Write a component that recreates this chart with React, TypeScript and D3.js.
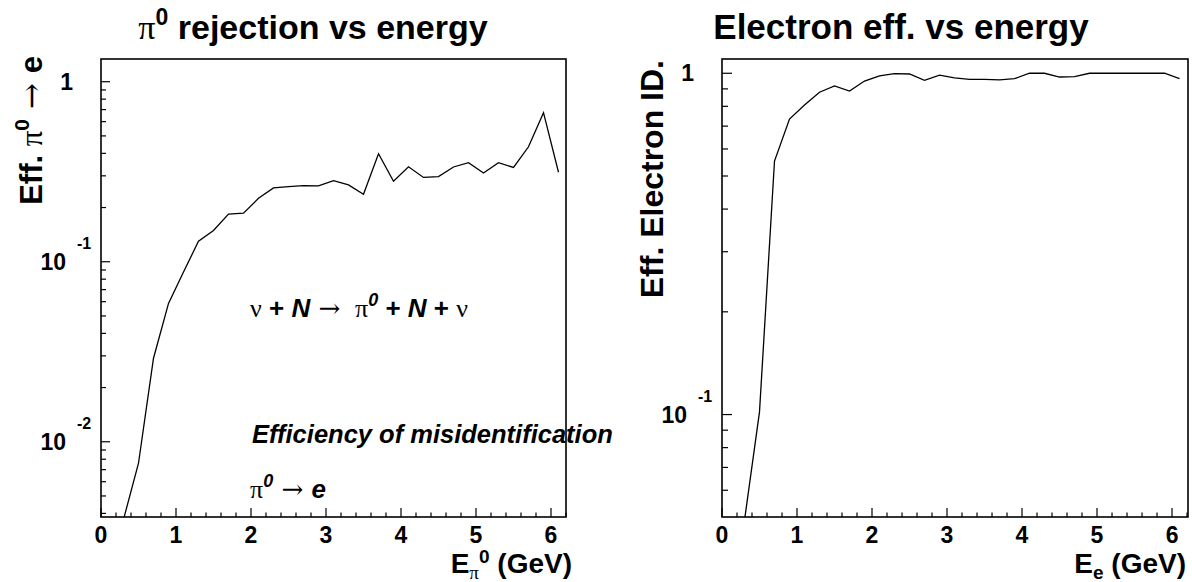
import React from 'react';
import * as d3 from 'd3';

// ---------- data ----------
const energyBins = [0.3, 0.5, 0.7, 0.9, 1.1, 1.3, 1.5, 1.7, 1.9, 2.1, 2.3, 2.5, 2.7, 2.9, 3.1, 3.3, 3.5, 3.7, 3.9, 4.1, 4.3, 4.5, 4.7, 4.9, 5.1, 5.3, 5.5, 5.7, 5.9, 6.1];
const pi0Misid = [0.0037, 0.0076, 0.0291, 0.0587, 0.0877, 0.130, 0.149, 0.184, 0.186, 0.225, 0.257, 0.261, 0.265, 0.264, 0.282, 0.267, 0.237, 0.398, 0.280, 0.337, 0.294, 0.297, 0.336, 0.355, 0.311, 0.355, 0.334, 0.435, 0.673, 0.314];
const electronEff = [0.049, 0.1018, 0.553, 0.734, 0.807, 0.880, 0.918, 0.887, 0.949, 0.982, 0.997, 0.995, 0.954, 0.987, 0.969, 0.960, 0.960, 0.956, 0.964, 1.0, 1.0, 0.975, 0.977, 1.0, 1.0, 1.0, 1.0, 1.0, 1.0, 0.964];
const xTickValues = [0, 1, 2, 3, 4, 5, 6];
const leftYTickValues = [1, 0.1, 0.01];
const rightYTickValues = [1, 0.1];

const SANS = 'Liberation Sans, Arial, Helvetica, sans-serif';
const SERIF = 'Liberation Serif, DejaVu Serif, Times New Roman, serif';
const ARROW = 'DejaVu Serif, Liberation Serif, serif';

type Frame = { x0: number; x1: number; y0: number; y1: number };

function logMinors(domain: [number, number]) {
  const out: number[] = [];
  const lo = Math.floor(Math.log10(domain[0]));
  const hi = Math.ceil(Math.log10(domain[1]));
  for (let n = lo; n <= hi; n++) {
    for (let k = 2; k <= 9; k++) {
      const v = k * Math.pow(10, n);
      if (v >= domain[0] && v <= domain[1]) out.push(v);
    }
  }
  return out;
}

function YLabel({ v, x, y }: { v: number; x: number; y: number }) {
  if (v === 1) {
    return (
      <text x={x - 28} y={y + 8} textAnchor="end" fontFamily={SANS} fontWeight="bold" fontSize={23}>1</text>
    );
  }
  const exp = Math.round(Math.log10(v));
  return (
    <g>
      <text x={x - 35} y={y + 8} textAnchor="end" fontFamily={SANS} fontWeight="bold" fontSize={23}>10</text>
      <text x={x - 24} y={y - 13} textAnchor="start" fontFamily={SANS} fontWeight="bold" fontSize={16}>{String(exp)}</text>
    </g>
  );
}

function Panel({ id, frame, xMax, yDomain, values, yTicks, majorLen, minorLen }: {
  id: string; frame: Frame; xMax: number; yDomain: [number, number]; values: number[]; yTicks: number[]; majorLen: number; minorLen: number;
}) {
  const xs = d3.scaleLinear().domain([0, xMax]).range([frame.x0, frame.x1]);
  const ys = d3.scaleLog().domain(yDomain).range([frame.y1, frame.y0]);
  const line = d3.line<number>().x((_, i) => xs(energyBins[i])).y((d) => ys(d));
  const xMinors = d3.range(0, xMax + 1e-9, 0.2).filter((v) => Math.abs(v - Math.round(v)) > 1e-6);
  const yMinors = logMinors(yDomain).filter((v) => !yTicks.some((t) => Math.abs(t - v) < 1e-9));
  return (
    <g>
      <defs>
        <clipPath id={id}>
          <rect x={frame.x0} y={frame.y0} width={frame.x1 - frame.x0} height={frame.y1 - frame.y0} />
        </clipPath>
      </defs>
      <path d={line(values) || ''} fill="none" stroke="#000" strokeWidth={1.3} clipPath={`url(#${id})`} />
      {yTicks.map((t) => (
        <line key={'ym' + t} x1={frame.x0} x2={frame.x0 + majorLen} y1={ys(t)} y2={ys(t)} stroke="#000" strokeWidth={1.2} />
      ))}
      {yMinors.map((t) => (
        <line key={'yn' + t} x1={frame.x0} x2={frame.x0 + minorLen} y1={ys(t)} y2={ys(t)} stroke="#000" strokeWidth={1.2} />
      ))}
      {xTickValues.map((t) => (
        <line key={'xm' + t} x1={xs(t)} x2={xs(t)} y1={frame.y1} y2={frame.y1 - 9} stroke="#000" strokeWidth={1.2} />
      ))}
      {xMinors.map((t) => (
        <line key={'xn' + t} x1={xs(t)} x2={xs(t)} y1={frame.y1} y2={frame.y1 - 4.5} stroke="#000" strokeWidth={1.2} />
      ))}
      {xTickValues.map((t) => (
        <text key={'xl' + t} x={xs(t)} y={frame.y1 + 26} textAnchor="middle" fontFamily={SANS} fontWeight="bold" fontSize={23}>{String(t)}</text>
      ))}
      {yTicks.map((t) => (
        <YLabel key={'yl' + t} v={t} x={frame.x0} y={ys(t)} />
      ))}
      <rect x={frame.x0} y={frame.y0} width={frame.x1 - frame.x0} height={frame.y1 - frame.y0} fill="none" stroke="#000" strokeWidth={1.6} />
    </g>
  );
}

export default function App() {
  const leftFrame: Frame = { x0: 101, x1: 566, y0: 59, y1: 517 };
  const rightFrame: Frame = { x0: 722, x1: 1188, y0: 59, y1: 517 };
  return (
    <svg width={1192} height={582} style={{ position: 'absolute', left: 0, top: 0, background: '#fff' }}>
      <rect x={0} y={0} width={1192} height={582} fill="#fff" />
      {/* titles */}
      <text x={313} y={39} textAnchor="middle" fontFamily={SANS} fontWeight="bold" fontSize={34}>
        <tspan fontFamily={SERIF} fontWeight="normal">π</tspan>
        <tspan dy={-14} fontSize={23}>0</tspan>
        <tspan dy={14}> rejection vs energy</tspan>
      </text>
      <text x={901} y={39} textAnchor="middle" fontFamily={SANS} fontWeight="bold" fontSize={35}>Electron eff. vs energy</text>

      <Panel id="clipL" frame={leftFrame} xMax={6.2} yDomain={[0.00382, 1.337]} values={pi0Misid} yTicks={leftYTickValues} majorLen={9} minorLen={5} />
      <Panel id="clipR" frame={rightFrame} xMax={6.213} yDomain={[0.0501, 1.101]} values={electronEff} yTicks={rightYTickValues} majorLen={10} minorLen={6} />

      {/* axis titles */}
      <text x={572} y={573} textAnchor="end" fontFamily={SANS} fontWeight="bold" fontSize={28}>
        E<tspan dy={6} fontFamily={SERIF} fontWeight="normal" fontSize={19}>π</tspan>
        <tspan dy={-16} fontSize={19}>0</tspan>
        <tspan dy={10}> (GeV)</tspan>
      </text>
      <text x={1186} y={573} textAnchor="end" fontFamily={SANS} fontWeight="bold" fontSize={28}>
        E<tspan dy={6} fontSize={19}>e</tspan>
        <tspan dy={-6}> (GeV)</tspan>
      </text>
      <text transform="translate(42,56) rotate(-90)" textAnchor="end" fontFamily={SANS} fontWeight="bold" fontSize={31}>
        Eff. <tspan fontFamily={SERIF} fontWeight="normal">π</tspan>
        <tspan dy={-13} fontSize={21}>0</tspan>
        <tspan dy={13} fontFamily={ARROW} fontWeight="normal"> → </tspan>
        <tspan>e</tspan>
      </text>
      <text transform="translate(663,60) rotate(-90)" textAnchor="end" fontFamily={SANS} fontWeight="bold" fontSize={32}>Eff. Electron ID.</text>

      {/* annotations */}
      <text x={250} y={317} fontFamily={SANS} fontWeight="bold" fontSize={26}>
        <tspan fontFamily={SERIF} fontWeight="normal">ν</tspan>
        <tspan> + </tspan>
        <tspan fontStyle="italic">N</tspan>
        <tspan fontFamily={ARROW} fontWeight="normal"> → </tspan>
        <tspan fontFamily={SERIF} fontWeight="normal">{'\u00a0'}π</tspan>
        <tspan dy={-11} fontStyle="italic" fontSize={18}>0</tspan>
        <tspan dy={11}> + </tspan>
        <tspan fontStyle="italic">N</tspan>
        <tspan> + </tspan>
        <tspan fontFamily={SERIF} fontWeight="normal">ν</tspan>
      </text>
      <text x={252} y={443} fontFamily={SANS} fontWeight="bold" fontStyle="italic" fontSize={25.5}>Efficiency of misidentification</text>
      <text x={250} y={498} fontFamily={SANS} fontWeight="bold" fontSize={26}>
        <tspan fontFamily={SERIF} fontWeight="normal">π</tspan>
        <tspan dy={-11} fontStyle="italic" fontSize={18}>0</tspan>
        <tspan dy={11} fontFamily={ARROW} fontWeight="normal"> → </tspan>
        <tspan fontStyle="italic">e</tspan>
      </text>
    </svg>
  );
}
